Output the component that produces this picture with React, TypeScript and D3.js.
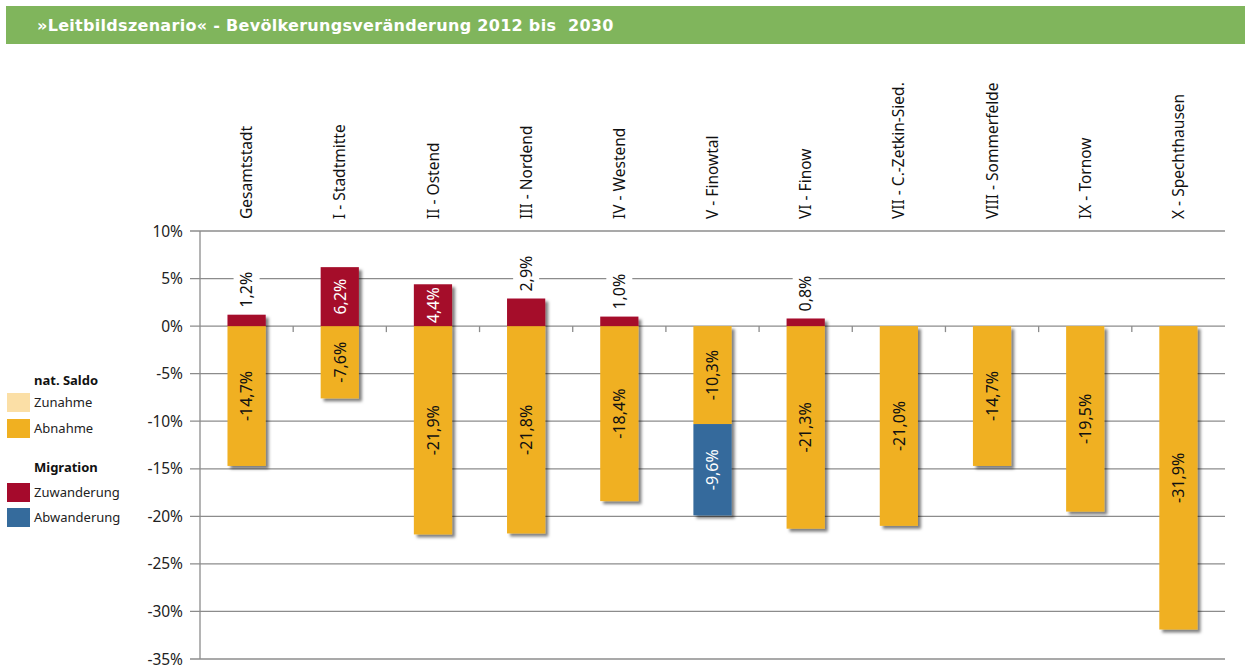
import React from "react";
import * as d3 from "d3";

const categories = [
  "Gesamtstadt",
  "I - Stadtmitte",
  "II - Ostend",
  "III - Nordend",
  "IV - Westend",
  "V - Finowtal",
  "VI - Finow",
  "VII - C.-Zetkin-Sied.",
  "VIII - Sommerfelde",
  "IX - Tornow",
  "X - Spechthausen",
];
const natSaldo = [-14.7, -7.6, -21.9, -21.8, -18.4, -10.3, -21.3, -21.0, -14.7, -19.5, -31.9];
const migration: (number | null)[] = [1.2, 6.2, 4.4, 2.9, 1.0, -9.6, 0.8, null, null, null, null];
const yTicks = [10, 5, 0, -5, -10, -15, -20, -25, -30, -35];
const title = "»Leitbildszenario« - Bevölkerungsveränderung 2012 bis\u00a0 2030";

const C_ZUNAHME = "#fbdfa6";
const C_ABNAHME = "#f0b021";
const C_ZUWANDERUNG = "#a50a2c";
const C_ABWANDERUNG = "#356b9c";
const FONT = "'Noto Sans', sans-serif";

const fmt = (v: number) => v.toFixed(1).replace(".", ",") + "%";

export default function App() {
  const W = 1248, H = 668;
  const x0 = 200, x1 = 1225;
  const y = d3.scaleLinear().domain([10, -35]).range([231, 659]);
  const x = d3.scaleBand<string>().domain(categories).range([x0, x1]).paddingInner(0.59).paddingOuter(0.295);
  const bw = x.bandwidth();
  const step = x.step();
  const zero = y(0);

  type Seg = { cat: string; v0: number; v1: number; color: string; value: number; kind: "nat" | "mig" };
  const segs: Seg[] = [];
  categories.forEach((c, i) => {
    const n = natSaldo[i];
    segs.push({ cat: c, v0: 0, v1: n, color: n < 0 ? C_ABNAHME : C_ZUNAHME, value: n, kind: "nat" });
    const m = migration[i];
    if (m != null) {
      if (m >= 0) segs.push({ cat: c, v0: 0, v1: m, color: C_ZUWANDERUNG, value: m, kind: "mig" });
      else segs.push({ cat: c, v0: n, v1: n + m, color: C_ABWANDERUNG, value: m, kind: "mig" });
    }
  });

  const legend = [
    { type: "head", text: "nat. Saldo", y: 385 },
    { type: "item", text: "Zunahme", color: C_ZUNAHME, y: 402.5 },
    { type: "item", text: "Abnahme", color: C_ABNAHME, y: 428.5 },
    { type: "head", text: "Migration", y: 472 },
    { type: "item", text: "Zuwanderung", color: C_ZUWANDERUNG, y: 492.5 },
    { type: "item", text: "Abwanderung", color: C_ABWANDERUNG, y: 517.5 },
  ];

  return (
    <svg width={W} height={H} style={{ position: "absolute", left: 0, top: 0, background: "#fff" }} fontFamily={FONT}>
      <defs>
        <filter id="shadow" x="-20%" y="-20%" width="150%" height="150%">
          <feDropShadow dx="3" dy="3" stdDeviation="1.6" floodColor="#000" floodOpacity="0.5" />
        </filter>
      </defs>
      {/* Title bar */}
      <rect x={6} y={6} width={1239} height={38} fill="#80b55c" />
      <text x={37} y={31} fill="#fff" fontFamily="'DejaVu Sans', Verdana, sans-serif" fontWeight="bold" fontSize={16} letterSpacing={0.3}>
        {title}
      </text>

      {/* gridlines */}
      {yTicks.map((t) => (
        <g key={t}>
          <line x1={190} x2={x1} y1={y(t)} y2={y(t)} stroke="#8c8c8c" strokeWidth={1.3} />
          <text x={183} y={y(t)} dy="0.36em" textAnchor="end" fontSize={15.5} fill="#222">
            {t + "%"}
          </text>
        </g>
      ))}
      <line x1={x0} x2={x0} y1={y(10)} y2={y(-35)} stroke="#8c8c8c" strokeWidth={1.3} />
      {/* category ticks on zero line */}
      {d3.range(1, categories.length).map((i) => (
        <line key={i} x1={x0 + i * step} x2={x0 + i * step} y1={zero} y2={zero + 6} stroke="#8c8c8c" strokeWidth={1.3} />
      ))}

      {/* bars */}
      <g filter="url(#shadow)">
        {segs.map((s, i) => {
          const yt = Math.min(y(s.v0), y(s.v1));
          const h = Math.abs(y(s.v0) - y(s.v1));
          return <rect key={i} x={x(s.cat)} y={yt} width={bw} height={h} fill={s.color} />;
        })}
      </g>

      {/* value labels */}
      {segs.map((s, i) => {
        const cx = (x(s.cat) as number) + bw / 2;
        const h = Math.abs(y(s.v0) - y(s.v1));
        const txt = fmt(s.value);
        const textLen = txt.length * 8.8;
        const white = s.kind === "mig";
        if (h > textLen + 4) {
          const cy = (y(s.v0) + y(s.v1)) / 2;
          return (
            <text key={i} transform={`translate(${cx},${cy}) rotate(-90)`} textAnchor="middle" dy="0.36em" fontSize={16}
              fill={white ? "#fff" : "#111"}>
              {txt}
            </text>
          );
        }
        const top = y(s.v1) - 7;
        return (
          <g key={i} transform={`translate(${cx},${top}) rotate(-90)`}>
            <rect x={-2} y={-13} width={textLen + 3} height={26} fill="#fff" />
            <text x={0} dy="0.36em" fontSize={16} fill="#111">
              {txt}
            </text>
          </g>
        );
      })}

      {/* category labels */}
      {categories.map((c) => (
        <text key={c} transform={`translate(${(x(c) as number) + bw / 2},219) rotate(-90)`} dy="0.36em" fontSize={15.5} fill="#111">
          {c}
        </text>
      ))}

      {/* legend */}
      {legend.map((l) =>
        l.type === "head" ? (
          <text key={l.text} x={34} y={l.y} fontSize={13} fontWeight="bold" fill="#111">
            {l.text}
          </text>
        ) : (
          <g key={l.text}>
            <rect x={7} y={l.y - 9.5} width={23} height={19} fill={l.color} />
            <text x={34} y={l.y} dy="0.36em" fontSize={13} fill="#222">
              {l.text}
            </text>
          </g>
        )
      )}
    </svg>
  );
}
